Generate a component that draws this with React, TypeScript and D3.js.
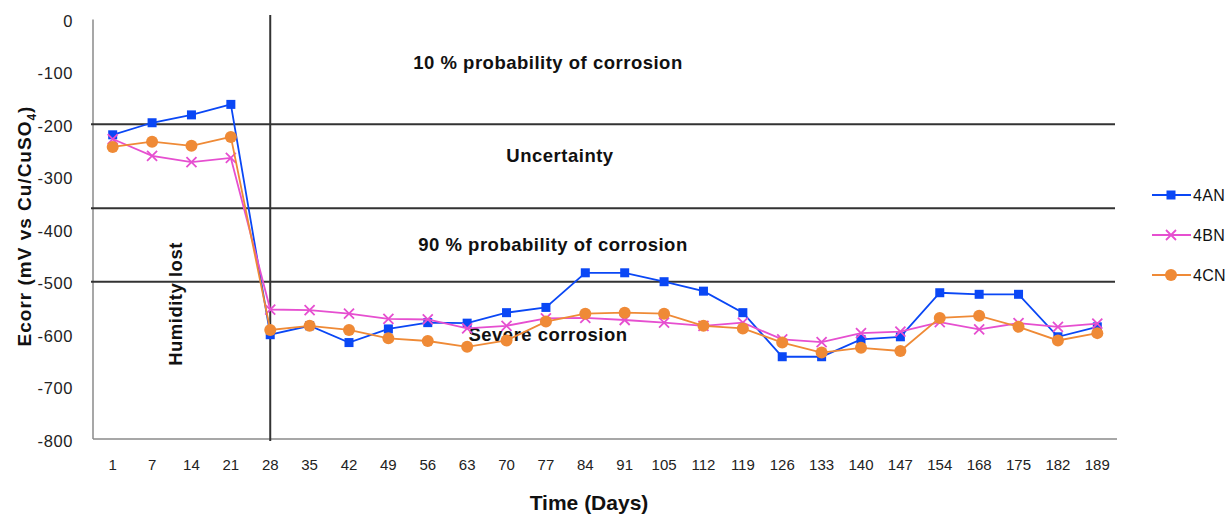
import React from "react";
import * as d3 from "d3";

const days = ["1", "7", "14", "21", "28", "35", "42", "49", "56", "63", "70", "77", "84", "91", "105", "112", "119", "126", "133", "140", "147", "154", "168", "175", "182", "189"];

const s4AN = [-220, -197, -182, -162, -601, -584, -616, -590, -578, -579, -559, -549, -483, -483, -500, -518, -559, -643, -643, -610, -605, -521, -524, -524, -605, -586];
const s4BN = [-228, -260, -272, -264, -553, -554, -561, -571, -572, -589, -584, -570, -569, -573, -578, -584, -578, -610, -615, -598, -595, -577, -591, -579, -586, -580];
const s4CN = [-243, -233, -241, -224, -592, -584, -592, -608, -613, -624, -612, -576, -561, -559, -561, -584, -589, -616, -635, -626, -632, -569, -565, -586, -612, -598];

const yTicks = [0, -100, -200, -300, -400, -500, -600, -700, -800];
const thresholds = [-200, -360, -500];

const zoneLabels = [
  { text: "10 % probability of corrosion", v: -83, cx: 548 },
  { text: "Uncertainty", v: -260, cx: 560 },
  { text: "90 % probability of corrosion", v: -430, cx: 553 },
  { text: "Severe corrosion", v: -600, cx: 548 },
];

const series = [
  { name: "4AN", values: s4AN, color: "#0a47f5", marker: "square" },
  { name: "4BN", values: s4BN, color: "#e64fd0", marker: "x" },
  { name: "4CN", values: s4CN, color: "#ef8a36", marker: "circle" },
];

const Marker = ({ type, x, y, color }: { type: string; x: number; y: number; color: string }) => {
  if (type === "square") return <rect x={x - 4.5} y={y - 4.5} width={9} height={9} fill={color} />;
  if (type === "circle") return <circle cx={x} cy={y} r={6} fill={color} />;
  return (
    <path d={`M${x - 5},${y - 5}L${x + 5},${y + 5}M${x - 5},${y + 5}L${x + 5},${y - 5}`} stroke={color} strokeWidth={1.8} fill="none" />
  );
};

export default function App() {
  const width = 1228;
  const height = 515;
  const left = 93;
  const right = 1117;
  const top = 19.4;
  const bottom = 439.1;

  const x = d3.scaleBand<string>().domain(days).range([left, right]);
  const cx = (d: string) => (x(d) as number) + x.bandwidth() / 2;
  const y = d3.scaleLinear().domain([-800, 0]).range([bottom, top]);

  const line = d3
    .line<number>()
    .x((_, i) => cx(days[i]))
    .y((v) => y(v));

  const narrow = "'Liberation Sans Narrow', 'Arial Narrow', 'Liberation Sans', sans-serif";
  const font = "'Liberation Sans', Arial, sans-serif";

  return (
    <svg width={width} height={height} style={{ position: "absolute", left: 0, top: 0, background: "#fff" }}>
      {/* axes */}
      <line x1={left} x2={left} y1={top} y2={bottom} stroke="#8a8a8a" strokeWidth={1.5} />
      <line x1={left} x2={right} y1={bottom} y2={bottom} stroke="#8a8a8a" strokeWidth={1.5} />

      {/* threshold lines */}
      {thresholds.map((t) => (
        <line key={t} x1={left - 2} x2={right - 2} y1={y(t)} y2={y(t)} stroke="#333" strokeWidth={2} />
      ))}
      <line x1={cx("28")} x2={cx("28")} y1={15} y2={bottom + 2} stroke="#333" strokeWidth={2} />

      {/* y ticks */}
      {yTicks.map((t) => (
        <text key={t} x={73} y={y(t)} dy="0.45em" textAnchor="end" fontFamily={font} fontSize={16.5} letterSpacing={0.6} fill="#222">
          {t}
        </text>
      ))}

      {/* x ticks */}
      {days.map((d) => (
        <text key={d} x={cx(d)} y={470} textAnchor="middle" fontFamily={font} fontSize={15} fill="#222">
          {d}
        </text>
      ))}

      {/* zone labels */}
      {zoneLabels.map((z) => (
        <text key={z.text} x={z.cx} y={y(z.v)} dy="0.35em" textAnchor="middle" fontFamily={font} fontWeight="bold" fontSize={18.5} letterSpacing={0.5} fill="#111">
          {z.text}
        </text>
      ))}
      <text transform={`translate(182,304) rotate(-90)`} textAnchor="middle" fontFamily={font} fontWeight="bold" fontSize={18.5} letterSpacing={0.5} fill="#111">
        Humidity lost
      </text>

      {/* series */}
      {series.map((s) => (
        <g key={s.name}>
          <path d={line(s.values) as string} fill="none" stroke={s.color} strokeWidth={1.8} />
          {s.values.map((v, i) => (
            <Marker key={i} type={s.marker} x={cx(days[i])} y={y(v)} color={s.color} />
          ))}
        </g>
      ))}

      {/* axis titles */}
      <text transform={`translate(31,226) rotate(-90)`} textAnchor="middle" fontFamily={font} fontWeight="bold" fontSize={19} letterSpacing={1} fill="#111">
        Ecorr (mV vs Cu/CuSO<tspan fontSize={12} dy={5}>4</tspan>
        <tspan dy={-5}>)</tspan>
      </text>
      <text x={589} y={510} textAnchor="middle" fontFamily={narrow} fontWeight="bold" fontSize={21} fill="#111">
        Time (Days)
      </text>

      {/* legend */}
      {series.map((s, i) => {
        const ly = 195 + i * 40;
        return (
          <g key={s.name}>
            <line x1={1152} x2={1191} y1={ly} y2={ly} stroke={s.color} strokeWidth={2} />
            <Marker type={s.marker} x={1171} y={ly} color={s.color} />
            <text x={1193} y={ly} dy="0.36em" fontFamily={font} fontSize={16} letterSpacing={0.3} fill="#111">
              {s.name}
            </text>
          </g>
        );
      })}
    </svg>
  );
}
